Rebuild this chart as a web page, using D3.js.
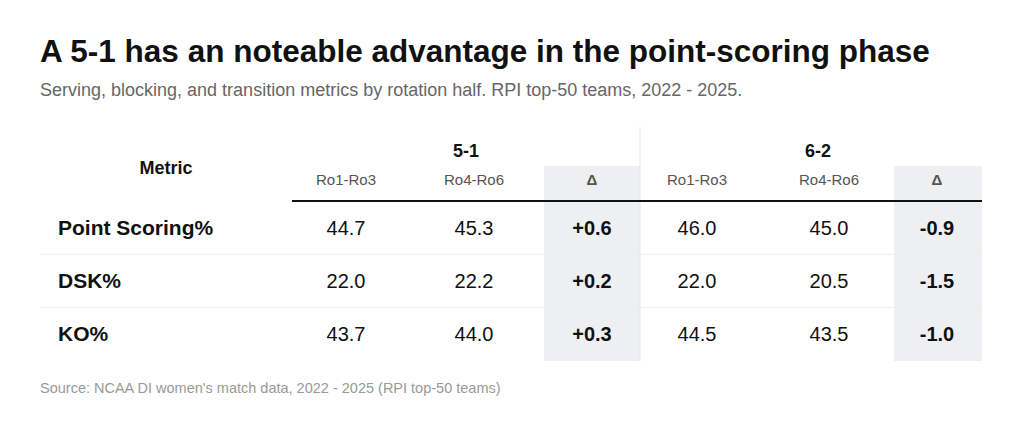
<!DOCTYPE html>
<html><head><meta charset="utf-8">
<script src="https://cdn.jsdelivr.net/npm/d3@7"></script>
<style>body{margin:0;background:#fff;font-family:Arial,"Liberation Sans",sans-serif}</style>
</head><body><svg id="c"></svg>
<script>
// 表のデータ
const metrics = ["Point Scoring%", "DSK%", "KO%"];
const groups = ["5-1", "6-2"];
const subCols = ["Ro1-Ro3", "Ro4-Ro6", "Δ"];
const vals51 = [[44.7, 45.3, 0.6], [22.0, 22.2, 0.2], [43.7, 44.0, 0.3]];
const vals62 = [[46.0, 45.0, -0.9], [22.0, 20.5, -1.5], [44.5, 43.5, -1.0]];

const W = 1024, H = 424;
const svg = d3.select("#c").attr("width", W).attr("height", H);

svg.append("text").attr("x", 40).attr("y", 62).attr("font-size", 31.5).attr("font-weight", "bold")
  .attr("fill", "#111").text("A 5-1 has an noteable advantage in the point-scoring phase");
svg.append("text").attr("x", 40).attr("y", 96).attr("font-size", 18).attr("fill", "#666")
  .text("Serving, blocking, and transition metrics by rotation half. RPI top-50 teams, 2022 - 2025.");

// 列の中心位置
const colX = [346, 474, 592, 697, 829, 937];
const deltaBands = [[544, 640], [894, 982]];
const y = d3.scaleBand().domain(metrics).range([201, 361]);

// Δ列の背景
deltaBands.forEach(b => svg.append("rect").attr("x", b[0]).attr("y", 166)
  .attr("width", b[1] - b[0]).attr("height", 361 - 166).attr("fill", "#eeeff1"));

// 区切り線
svg.append("line").attr("x1", 640).attr("x2", 640).attr("y1", 127).attr("y2", 361)
  .attr("stroke", "#e6e6e6");
metrics.slice(1).forEach(m => svg.append("line").attr("x1", 40).attr("x2", 982)
  .attr("y1", y(m)).attr("y2", y(m)).attr("stroke", "#ececec"));
svg.append("line").attr("x1", 292).attr("x2", 982).attr("y1", 201).attr("y2", 201)
  .attr("stroke", "#111").attr("stroke-width", 2);

// ヘッダ
svg.append("text").attr("x", 166).attr("y", 174).attr("text-anchor", "middle")
  .attr("font-size", 18).attr("font-weight", "bold").attr("fill", "#111").text("Metric");
[466, 818].forEach((x, i) => svg.append("text").attr("x", x).attr("y", 157)
  .attr("text-anchor", "middle").attr("font-size", 18).attr("font-weight", "bold")
  .attr("fill", "#111").text(groups[i]));
colX.forEach((x, i) => svg.append("text").attr("x", x).attr("y", 185)
  .attr("text-anchor", "middle").attr("font-size", 15)
  .attr("font-weight", i % 3 === 2 ? "bold" : "normal")
  .attr("fill", "#555").text(subCols[i % 3]));

// 行
const fmt = d3.format(".1f");
const fmtD = v => (v > 0 ? "+" : "-") + Math.abs(v).toFixed(1);
metrics.forEach((m, r) => {
  const cy = y(m) + y.bandwidth() / 2 + 7;
  svg.append("text").attr("x", 58).attr("y", cy).attr("font-size", 21)
    .attr("font-weight", "bold").attr("fill", "#111").text(m);
  const row = vals51[r].concat(vals62[r]);
  row.forEach((v, i) => {
    const isD = i % 3 === 2;
    svg.append("text").attr("x", colX[i]).attr("y", cy).attr("text-anchor", "middle")
      .attr("font-size", 20).attr("font-weight", isD ? "bold" : "normal")
      .attr("fill", "#111").text(isD ? fmtD(v) : fmt(v));
  });
});

svg.append("text").attr("x", 40).attr("y", 393).attr("font-size", 14.5).attr("fill", "#999")
  .text("Source: NCAA DI women's match data, 2022 - 2025 (RPI top-50 teams)");
</script></body></html>
